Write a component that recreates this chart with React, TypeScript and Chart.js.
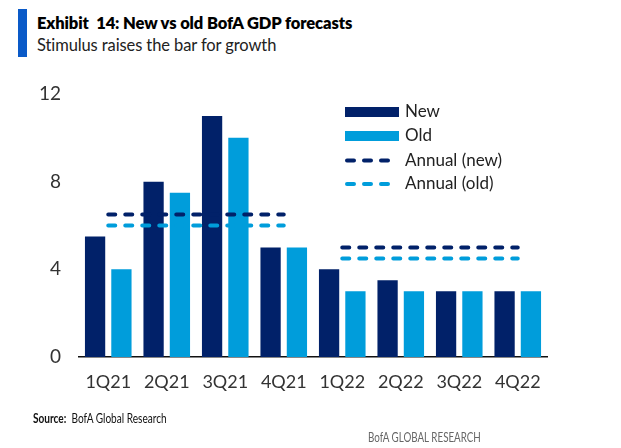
import React, { useEffect, useRef } from "react";
import { Chart, registerables } from "chart.js";

Chart.register(...registerables);

const categories = ["1Q21", "2Q21", "3Q21", "4Q21", "1Q22", "2Q22", "3Q22", "4Q22"];
const newValues = [5.5, 8, 11, 5, 4, 3.5, 3, 3];
const oldValues = [4, 7.5, 10, 5, 3, 3, 3, 3];
const annualNew = [6.5, 6.5, 6.5, 6.5, 5, 5, 5, 5];
const annualOld = [6, 6, 6, 6, 4.5, 4.5, 4.5, 4.5];
const yTicks = [0, 4, 8, 12];
const seriesNames = ["New", "Old", "Annual (new)", "Annual (old)"];

const NAVY = "#012169";
const LIGHT = "#009ddb";
const FONT = "Lato, 'Open Sans', sans-serif";

const legendPlugin = {
  id: "customLegend",
  afterDraw(chart: any) {
    const ctx = chart.ctx;
    ctx.save();
    const x0 = 345;
    const x1 = 399;
    const rows = [112, 136, 160.5, 184];
    const colors = [NAVY, LIGHT, NAVY, LIGHT];
    rows.forEach((y, i) => {
      if (i < 2) {
        ctx.fillStyle = colors[i];
        ctx.fillRect(x0, y - 5, x1 - x0, 10);
      } else {
        ctx.strokeStyle = colors[i];
        ctx.lineWidth = 4;
        ctx.lineCap = "round";
        ctx.setLineDash([7, 10]);
        ctx.beginPath();
        ctx.moveTo(x0 + 2, y);
        ctx.lineTo(x1 - 1, y);
        ctx.stroke();
        ctx.setLineDash([]);
      }
      ctx.fillStyle = "#222";
      ctx.font = `17px ${FONT}`;
      ctx.textBaseline = "middle";
      ctx.textAlign = "left";
      ctx.fillText(seriesNames[i], 405, y);
    });
    ctx.restore();
  },
};

export default function App() {
  const ref = useRef<HTMLCanvasElement>(null);
  useEffect(() => {
    const gap = (color: string) => (c: any) => (c.p0DataIndex === 3 ? "rgba(0,0,0,0)" : color);
    const chart = new Chart(ref.current!, {
      type: "bar",
      data: {
        labels: categories,
        datasets: [
          {
            type: "line",
            label: seriesNames[2],
            data: annualNew,
            borderColor: NAVY,
            borderWidth: 4,
            borderDash: [7, 10],
            borderCapStyle: "round",
            pointRadius: 0,
            order: 1,
            segment: { borderColor: gap(NAVY) },
          } as any,
          {
            type: "line",
            label: seriesNames[3],
            data: annualOld,
            borderColor: LIGHT,
            borderWidth: 4,
            borderDash: [7, 10],
            borderCapStyle: "round",
            pointRadius: 0,
            order: 1,
            segment: { borderColor: gap(LIGHT) },
          } as any,
          {
            label: seriesNames[0],
            data: newValues,
            backgroundColor: NAVY,
            categoryPercentage: 0.9,
            barPercentage: 0.77,
            order: 2,
          },
          {
            label: seriesNames[1],
            data: oldValues,
            backgroundColor: LIGHT,
            categoryPercentage: 0.9,
            barPercentage: 0.77,
            order: 2,
          },
        ],
      },
      options: {
        animation: false,
        responsive: false,
        layout: { padding: { top: 94, right: 74, bottom: 51, left: 0 } },
        plugins: { legend: { display: false }, tooltip: { enabled: false } },
        scales: {
          x: {
            grid: { display: false, drawTicks: false },
            border: { display: true, color: "#111", width: 1.5 },
            ticks: { color: "#333", font: { family: FONT, size: 18 }, padding: 14 },
            afterFit: (s: any) => { s.height = 40; },
          },
          y: {
            min: 0,
            max: 12,
            afterBuildTicks: (s: any) => { s.ticks = yTicks.map((v) => ({ value: v })); },
            grid: { display: false, drawTicks: false },
            border: { display: false },
            ticks: { color: "#333", font: { family: FONT, size: 19 }, padding: 18 },
            afterFit: (s: any) => { s.width = 79; },
          },
        },
      },
      plugins: [legendPlugin],
    });
    return () => chart.destroy();
  }, []);

  return (
    <div style={{ position: "absolute", left: 0, top: 0, width: 621, height: 448, background: "#fff", fontFamily: FONT }}>
      <div style={{ position: "absolute", left: 18, top: 9, width: 9, height: 48, background: "#0a5ac8" }} />
      <div style={{ position: "absolute", left: 37, top: 13, fontSize: 16.5, fontWeight: 800, color: "#000", whiteSpace: "pre", letterSpacing: -0.1 }}>
        {"Exhibit  14: New vs old BofA GDP forecasts"}
      </div>
      <div style={{ position: "absolute", left: 37, top: 35, fontSize: 16.5, color: "#222", whiteSpace: "pre", letterSpacing: -0.1 }}>
        Stimulus raises the bar for growth
      </div>
      <canvas ref={ref} width={621} height={448} style={{ position: "absolute", left: 0, top: 0 }} />
      <div style={{ position: "absolute", left: 33, top: 409, fontSize: 14, color: "#111", whiteSpace: "pre", transform: "scaleX(0.72)", transformOrigin: "left top" }}>
        <b>Source:</b>{"  BofA Global Research"}
      </div>
      <div style={{ position: "absolute", left: 368, top: 428, fontSize: 14, color: "#666", whiteSpace: "pre", transform: "scaleX(0.7)", transformOrigin: "left top" }}>
        BofA GLOBAL RESEARCH
      </div>
    </div>
  );
}
